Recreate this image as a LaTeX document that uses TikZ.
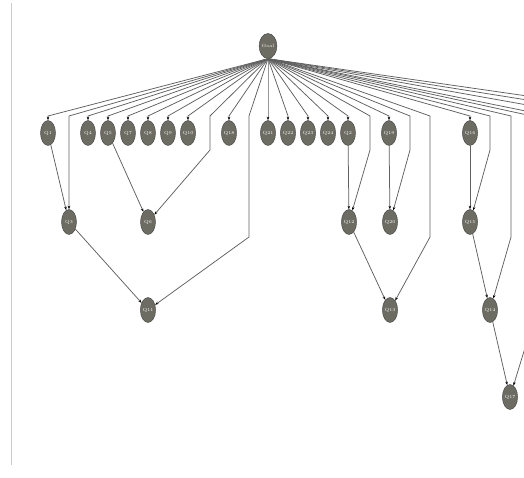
\documentclass[tikz,border=0pt]{standalone}
\usetikzlibrary{shapes.geometric, arrows.meta}
\definecolor{qgray}{RGB}{108,108,98}
\definecolor{qline}{RGB}{95,95,95}
\begin{document}
\begin{tikzpicture}[x=1pt, y=-1pt,
    qnode/.style={ellipse, draw=black!75, fill=qgray, minimum width=15pt, minimum height=25pt,
      inner sep=0pt, text=white, font=\fontsize{4.5}{5}\selectfont},
    link/.style={-{Stealth[black, length=3.5pt, width=2.5pt]}, draw=qline, line width=0.75pt}]
  \useasboundingbox (0,0) rectangle (524,478);
  \clip (0,0) rectangle (524,478);

  % linke Randlinie
  \draw[gray!40, line width=1pt] (11,3) -- (11,465);

  % Wurzel
  \node[qnode] (root) at (268,46) {Goal};

  % 1. Ebene
  \foreach \n/\x in {1/48, 4/88, 5/108, 7/128, 8/148, 9/168, 10/188, 18/229,
                     21/268, 22/288, 23/308, 24/328, 2/348, 19/389, 16/470} {
    \node[qnode] (Q\n) at (\x,133) {Q\n};
    \coordinate (t\n) at (\x,116);
  }

  % 2. Ebene
  \foreach \n/\x in {3/69, 6/148, 12/349, 20/390, 15/470}
    \node[qnode] (Q\n) at (\x,222) {Q\n};

  % 3. Ebene
  \foreach \n/\x in {11/148, 13/390, 14/490}
    \node[qnode] (Q\n) at (\x,310) {Q\n};
  \node[qnode] (Q17) at (510,397) {Q17};

  % Knickpunkte der langen Kanten
  \foreach \k/\x/\y in {a/69/120, b/210/150, c/249/237, d/370/150,
                        e/410/150, f/430/237, g/490/150, h/511/237, i/532/325} {
    \coordinate (\k1) at (\x,116);
    \coordinate (\k2) at (\x,\y);
  }
  % Endpunkte ausserhalb des Bildes
  \foreach \k/\x in {o1/560, o2/600, o3/640, o4/680}
    \coordinate (\k) at (\x,118);

  % Faecher von der Wurzel
  \foreach \n in {1,4,5,7,8,9,10,18,21,22,23,24,2,19,16}
    \draw[link] (root.south) -- (t\n) -- (Q\n);
  \foreach \t in {o1,o2,o3,o4}
    \draw[qline, line width=0.75pt] (root.south) -- (\t);

  % lange Kanten
  \draw[link] (root.south) -- (a1) -- (Q3);
  \draw[link] (root.south) -- (b1) -- (b2) -- (Q6);
  \draw[link] (root.south) -- (c1) -- (c2) -- (Q11);
  \draw[link] (root.south) -- (d1) -- (d2) -- (Q12);
  \draw[link] (root.south) -- (e1) -- (e2) -- (Q20);
  \draw[link] (root.south) -- (f1) -- (f2) -- (Q13);
  \draw[link] (root.south) -- (g1) -- (g2) -- (Q15);
  \draw[link] (root.south) -- (h1) -- (h2) -- (Q14);
  \draw[link] (root.south) -- (i1) -- (i2) -- (Q17);

  % kurze Kanten
  \foreach \s/\t in {Q1/Q3, Q5/Q6, Q3/Q11, Q2/Q12, Q19/Q20, Q12/Q13,
                     Q16/Q15, Q15/Q14, Q14/Q17}
    \draw[link] (\s) -- (\t);
\end{tikzpicture}
\end{document}
